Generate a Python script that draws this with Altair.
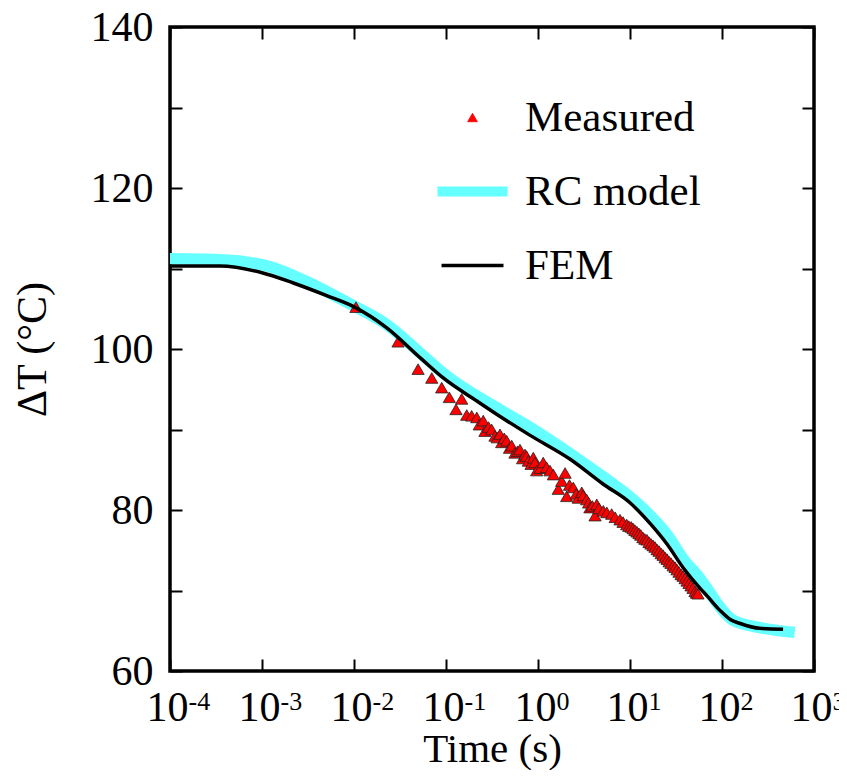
import altair as alt
import pandas as pd

# ---- data ----
meas_t = [0.0105, 0.0301, 0.0497, 0.070, 0.0898, 0.1086, 0.148, 0.1285, 0.168, 0.190,
          0.216, 0.23, 0.254, 0.265, 0.29, 0.314, 0.341, 0.36, 0.386, 0.403,
          0.43, 0.457, 0.49, 0.518, 0.562, 0.60, 0.637, 0.68, 0.722, 0.75,
          0.785, 0.84, 0.889, 0.927, 0.968, 1.06, 1.14, 1.24, 1.35, 1.47,
          1.66, 1.81, 1.97, 2.05, 2.2, 2.42, 2.6, 2.74, 2.99, 3.1,
          3.38, 3.55, 3.67, 3.9, 4.17, 4.35, 4.6, 5.13, 5.6, 6.32,
          6.9, 7.78, 8.4, 9.2, 9.7, 10.3, 10.8, 11.3, 11.9, 12.5,
          13.1, 13.8, 14.5, 15.3, 16.1, 16.9, 17.8, 18.7, 19.7, 20.7,
          21.8, 22.9, 24.1, 25.3, 26.6, 27.9, 29.4, 30.9, 32.4, 34.1,
          35.9, 37.7, 39.7, 41.7, 43.8, 46.0, 48.4, 50.9, 52.8, 54.8]
meas_v = [105.2, 100.9, 97.5, 96.4, 95.2, 94.0, 93.8, 92.5, 91.8, 91.7,
          91.5, 90.6, 91.1, 89.8, 90.3, 90.0, 89.2, 89.0, 89.4, 88.4,
          88.9, 88.6, 87.7, 88.0, 87.1, 87.3, 87.5, 86.4, 86.9, 86.7,
          86.1, 85.7, 86.5, 85.9, 84.9, 85.2, 85.9, 85.3, 84.9, 84.4,
          82.6, 83.6, 84.6, 81.7, 83.1, 82.8, 82.0, 81.5, 82.2, 81.8,
          81.3, 80.9, 80.3, 80.5, 79.3, 80.7, 80.2, 79.9, 79.7, 79.5,
          79.1, 78.8, 78.5, 78.2, 78.0, 77.9, 77.7, 77.5, 77.3, 77.1,
          76.9, 76.6, 76.4, 76.3, 76.0, 75.8, 75.6, 75.4, 75.1, 74.9,
          74.6, 74.4, 74.1, 73.9, 73.6, 73.4, 73.1, 72.9, 72.6, 72.3,
          72.0, 71.8, 71.5, 71.2, 70.9, 70.6, 70.3, 69.9, 69.7, 69.6]

rc_t = [1e-4, 3.47e-4, 1.23e-3, 3.16e-3, 9.77e-3, 0.0229, 0.0525, 0.0933, 0.355, 0.813,
        2.24, 5.13, 9.33, 16.6, 25.1, 38.0, 57.5, 69.2, 95.5, 132,
        257, 617]
rc_v = [111.2, 111.1, 110.2, 108.3, 105.4, 103.0, 99.5, 97.0, 92.7, 90.3,
        87.0, 84.1, 81.9, 79.3, 77.0, 73.9, 71.5, 70.2, 67.9, 66.3,
        65.4, 64.8]

fem_t = [1e-4, 3.47e-4, 9.8e-4, 2.19e-3, 5.13e-3, 9.77e-3, 0.0229, 0.0525, 0.0933, 0.219,
         0.355, 0.813, 2.24, 5.13, 10.0, 16.6, 25.1, 38.0, 57.5, 69.2,
         95.5, 123, 158, 257, 461]
fem_v = [110.3, 110.3, 109.5, 108.2, 106.6, 105.3, 102.6, 98.9, 96.4, 93.5,
         91.9, 89.3, 86.3, 83.2, 80.9, 78.3, 75.8, 72.8, 70.3, 69.3,
         67.5, 66.4, 65.9, 65.3, 65.2]

series_names = ["Measured", "RC model", "FEM"]
series_colors = ["#ff0000", "#66ffff", "#000000"]

x_ticks = [1e-4, 1e-3, 1e-2, 1e-1, 1, 10, 100, 1000]
y_ticks = [60, 70, 80, 90, 100, 110, 120, 130, 140]

FONT = "Liberation Serif"
FS = 42

meas_df = pd.DataFrame({"t": meas_t, "v": meas_v, "series": series_names[0]})
rc_df = pd.DataFrame({"t": rc_t, "v": rc_v, "series": series_names[1]})
fem_df = pd.DataFrame({"t": fem_t, "v": fem_v, "series": series_names[2]})

xs = alt.Scale(type="log", domain=[1e-4, 1e3], nice=False)
ys = alt.Scale(domain=[60, 140], nice=False, zero=False)

base_axis = dict(tickSize=12, offset=-12, domain=False, grid=False,
                 tickColor="black", tickWidth=2, labelColor="black",
                 titleColor="black", labelFont=FONT, labelFontSize=FS,
                 titleFont=FONT, titleFontSize=FS, titleFontWeight="normal")

# bottom axis: the "10" part of each decade label
x_axis_bottom = alt.Axis(orient="bottom", values=x_ticks, labelExpr="'10'",
                         labelPadding=16, labelAlign="left", labelOffset=-24,
                         labelFlush=False, labelOverlap=False,
                         title="Time (s)", titlePadding=1,
                         **{**base_axis, "titleFontSize": 41})
# second bottom axis: the superscript exponent of each decade label
x_axis_expo = alt.Axis(orient="bottom", values=x_ticks,
                       labelExpr="'' + round(log(datum.value) / LN10)",
                       ticks=False, domain=False, grid=False, offset=0,
                       labelPadding=17, labelAlign="left", labelOffset=18,
                       labelFlush=False, labelOverlap=False,
                       labelFont=FONT, labelFontSize=26, labelColor="black",
                       title=None)
y_axis_left = alt.Axis(orient="left", values=y_ticks,
                       labelExpr="datum.value % 20 == 0 ? datum.label : ''",
                       labelFlush=False, labelOverlap=False,
                       labelPadding=17, title="\u0394T (\u00b0C)", titlePadding=36,
                       **base_axis)
x_axis_top = alt.Axis(orient="top", values=x_ticks, labels=False, title=None, **base_axis)
y_axis_right = alt.Axis(orient="right", values=y_ticks, labels=False, title=None, **base_axis)

legend = alt.Legend(
    orient="none", legendX=281, legendY=69, title=None,
    labelFont=FONT, labelFontSize=43, labelColor="black", labelLimit=400,
    rowPadding=30, labelOffset=31, padding=0,
    symbolType=alt.ExprRef("datum.value === 'Measured' ? 'triangle-up' : 'stroke'"),
    symbolSize=alt.ExprRef("datum.value === 'Measured' ? 95 : (datum.value === 'RC model' ? 4900 : 3844)"),
    symbolFillColor=alt.ExprRef("datum.value === 'Measured' ? '#ff0000' : 'transparent'"),
    symbolStrokeColor=alt.ExprRef("datum.value === 'RC model' ? '#66ffff' : '#000000'"),
    symbolStrokeWidth=alt.ExprRef("datum.value === 'Measured' ? 0.8 : (datum.value === 'RC model' ? 10 : 3.5)"),
    symbolOpacity=1,
)

color = alt.Color("series:N",
                  scale=alt.Scale(domain=series_names, range=series_colors),
                  legend=legend)
color_nol = alt.Color("series:N",
                      scale=alt.Scale(domain=series_names, range=series_colors))

rc = alt.Chart(rc_df).mark_line(strokeWidth=11.5, interpolate="monotone").encode(
    x=alt.X("t:Q", scale=xs, axis=x_axis_bottom),
    y=alt.Y("v:Q", scale=ys, axis=y_axis_left),
    color=color,
)

meas = alt.Chart(meas_df).mark_point(shape="triangle-up", filled=True, size=150,
                                     stroke="#222222", strokeWidth=0.8, opacity=1).encode(
    x=alt.X("t:Q", scale=xs, axis=None),
    y=alt.Y("v:Q", scale=ys, axis=None),
    color=color_nol,
)

fem = alt.Chart(fem_df).mark_line(strokeWidth=3.5, interpolate="monotone").encode(
    x=alt.X("t:Q", scale=xs, axis=None),
    y=alt.Y("v:Q", scale=ys, axis=None),
    color=color_nol,
)

frame = alt.Chart(fem_df).mark_line(opacity=0).encode(
    x=alt.X("t:Q", scale=xs, axis=x_axis_top),
    y=alt.Y("v:Q", scale=ys, axis=y_axis_right),
)

expo = alt.Chart(fem_df).mark_line(opacity=0).encode(
    x=alt.X("t:Q", scale=xs, axis=x_axis_expo),
    y=alt.Y("v:Q", scale=ys, axis=None),
)

chart = alt.layer(rc, meas, fem, frame, expo).resolve_axis(
    x="independent", y="independent"
).properties(
    width=644, height=644,
    padding={"left": 162, "top": 19, "right": 25, "bottom": 99},
    autosize="none",
).configure_view(stroke="black", strokeWidth=3.5)

chart.save("out.html", embed_options={"renderer": "svg", "actions": False})
